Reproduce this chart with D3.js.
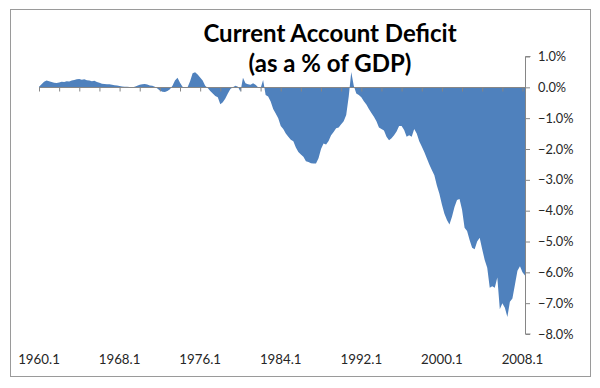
<!DOCTYPE html>
<meta charset="utf-8">
<script src="https://d3js.org/d3.v7.min.js"></script>
<style>
body { margin: 0; background: #fff; }
text { font-family: Lato, "Open Sans", sans-serif; fill: #262626; }
.title { font-weight: bold; fill: #000; }
</style>
<body>
<div id="chart"></div>
<script>
// quarterly current account balance, % of GDP, 1960.1 .. 2008.2
var startYear = 1960
var values = [
  0.02, 0.10, 0.18, 0.22,   0.20, 0.17, 0.15, 0.14,   0.16, 0.18, 0.17, 0.20,   0.19, 0.22, 0.24, 0.26,
  0.27, 0.25, 0.26, 0.23,   0.22, 0.20, 0.21, 0.17,   0.15, 0.12, 0.11, 0.10,   0.10, 0.08, 0.07, 0.06,
  0.04, 0.03, 0.02, 0.02,   0.01, 0.00, 0.02, 0.05,   0.08, 0.10, 0.11, 0.09,   0.06, 0.05, 0.02, -0.04,
  -0.10, -0.14, -0.15, -0.12,   -0.06, 0.05, 0.22, 0.31,   0.15, 0.02, -0.02, 0.00,   0.20, 0.46, 0.49, 0.42,
  0.32, 0.22, 0.05, -0.02,   -0.12, -0.20, -0.28, -0.32,   -0.55, -0.48, -0.36, -0.20,   -0.05, 0.00, 0.05, 0.02,
  -0.14, 0.31, 0.13, 0.10,   0.08, 0.13, 0.08, 0.00,   -0.03, 0.24, -0.25, -0.30,   -0.46, -0.70, -0.85, -1.00,
  -1.25, -1.35, -1.50, -1.60,   -1.70, -1.75, -1.95, -2.10,   -2.18, -2.25, -2.40, -2.42,   -2.46, -2.47, -2.47, -2.30,
  -2.00, -1.82, -1.85, -1.74,   -1.55, -1.45, -1.33, -1.30,   -1.20, -1.10, -0.90, -0.30,   0.50, 0.05, -0.20, -0.25,
  -0.32, -0.45, -0.56, -0.70,   -0.83, -0.95, -1.10, -1.30,   -1.35, -1.40, -1.60, -1.72,   -1.65, -1.55, -1.43, -1.25,
  -1.25, -1.38, -1.60, -1.55,   -1.60, -1.35, -1.50, -1.75,   -1.92, -2.10, -2.30, -2.50,   -2.68, -2.85, -3.18, -3.45,
  -3.80, -4.10, -4.30, -4.45,   -4.20, -3.88, -3.65, -3.62,   -3.97, -4.55, -4.66, -4.95,   -5.20, -5.25, -5.00, -4.88,
  -5.25, -5.60, -5.85, -6.50,   -6.45, -6.50, -6.17, -7.20,   -7.00, -7.15, -7.45, -6.95,   -6.85, -6.40, -5.95, -5.80,
  -6.00, -6.10
]
// category labels like "1960.1"
var quarters = values.map(function(v, i){ return (startYear + Math.floor(i/4)) + "." + (i%4 + 1) })
var labelEvery = 32
var tickEvery = 8
var yTicks = [1, 0, -1, -2, -3, -4, -5, -6, -7, -8]
var titleLines = ["Current Account Deficit", "(as a % of GDP)"]

var width = 600, height = 388

var svg = d3.select("#chart").append("svg")
    .attr("width", width)
    .attr("height", height)

// chart frame
svg.append("rect")
    .attr("x", 10.5).attr("y", 9.5)
    .attr("width", 580).attr("height", 367)
    .attr("fill", "#fff")
    .attr("stroke", "#9a9a9a")

var x = d3.scaleLinear().domain([0, values.length - 1]).range([39, 525])
var y = d3.scaleLinear().domain([-8, 1]).range([334, 56.5])

// the area
var area = d3.area()
    .x(function(d, i){ return x(i) })
    .y0(y(0))
    .y1(function(d){ return y(d) })

svg.append("path")
    .datum(values)
    .attr("d", area)
    .attr("fill", "#4f81bd")

// right value axis
var yAxis = d3.axisRight(y)
    .tickValues(yTicks)
    .tickSize(5)
    .tickPadding(8)
    .tickFormat(function(d){ return d3.format(".1f")(d) + "%" })

var yg = svg.append("g")
    .attr("transform", "translate(525,0)")
    .call(yAxis)
yg.select(".domain").attr("stroke", "#868686").attr("d", "M5.5," + y(1) + "H0.5V" + y(-8) + "H5.5")
yg.selectAll(".tick line").attr("stroke", "#868686").attr("x1", 0.5)
yg.selectAll(".tick text")
    .attr("font-size", 12.8)
    .attr("font-family", null)
    .attr("fill", "#262626")

// category axis on the zero line
var xg = svg.append("g")
    .attr("transform", "translate(0," + (Math.round(y(0)) + 0.5) + ")")
    .call(d3.axisBottom(x)
        .tickValues(d3.range(0, values.length, tickEvery))
        .tickSize(4)
        .tickFormat(""))
xg.select(".domain").attr("stroke", "#868686").attr("d", "M" + x(0) + ",0H" + x(values.length - 1))
xg.selectAll(".tick line").attr("stroke", "#868686")

// category labels sit at the bottom of the frame
svg.append("g").selectAll("text")
    .data(d3.range(0, values.length, labelEvery))
    .enter().append("text")
    .attr("x", function(i){ return x(i) })
    .attr("y", 364)
    .attr("text-anchor", "middle")
    .attr("font-size", 13.3)
    .text(function(i){ return quarters[i] })

// title
svg.append("g").selectAll("text")
    .data(titleLines)
    .enter().append("text")
    .attr("class", "title")
    .attr("x", 330)
    .attr("y", function(d, i){ return 42 + i*30 })
    .attr("text-anchor", "middle")
    .attr("font-size", 24)
    .text(function(d){ return d })
</script>
</body>
